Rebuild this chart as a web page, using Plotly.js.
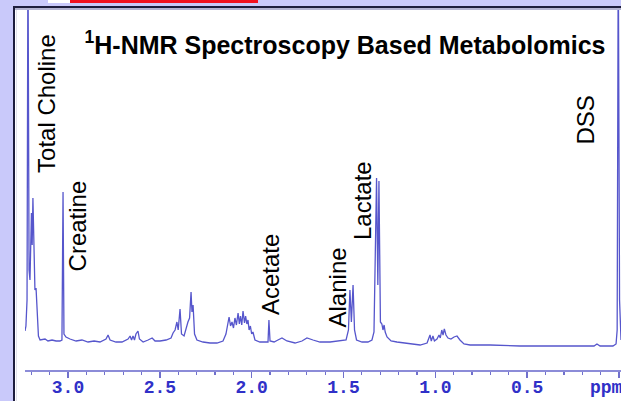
<!DOCTYPE html>
<html>
<head>
<meta charset="utf-8">
<script src="https://cdn.plot.ly/plotly-3.0.1.min.js"></script>
<style>
  html, body { margin: 0; padding: 0; background: #c9c9fa; }
  #chart { width: 621px; height: 401px; }
</style>
</head>
<body>
<div id="chart"></div>
<script>
// ---- Data ----
const spectrumPpm = [
  3.234, 3.229, 3.223, 3.218, 3.212, 3.207, 3.199, 3.195, 3.191, 3.185,
  3.180, 3.174, 3.169, 3.161, 3.152, 3.125, 3.109, 3.087, 3.065, 3.044,
  3.033, 3.027, 3.022, 3.011, 2.989, 2.956, 2.924, 2.891, 2.858, 2.826,
  2.793, 2.782, 2.771, 2.739, 2.706, 2.673, 2.662, 2.654, 2.646, 2.638,
  2.630, 2.619, 2.611, 2.591, 2.564, 2.542, 2.526, 2.499, 2.466, 2.439,
  2.428, 2.417, 2.407, 2.400, 2.390, 2.382, 2.368, 2.358, 2.347, 2.338,
  2.330, 2.325, 2.319, 2.311, 2.298, 2.265, 2.227, 2.189, 2.156, 2.140,
  2.129, 2.123, 2.115, 2.107, 2.099, 2.091, 2.083, 2.074, 2.067, 2.061,
  2.054, 2.047, 2.039, 2.033, 2.026, 2.020, 2.014, 2.007, 2.000, 1.993,
  1.982, 1.955, 1.911, 1.906, 1.900, 1.878, 1.857, 1.835, 1.808, 1.764,
  1.726, 1.699, 1.666, 1.628, 1.573, 1.519, 1.486, 1.473, 1.465, 1.457,
  1.448, 1.440, 1.429, 1.399, 1.367, 1.345, 1.334, 1.320, 1.313, 1.307,
  1.299, 1.291, 1.285, 1.279, 1.273, 1.263, 1.241, 1.209, 1.165, 1.127,
  1.083, 1.045, 1.035, 1.029, 1.022, 1.013, 1.005, 0.991, 0.980, 0.973,
  0.965, 0.958, 0.951, 0.942, 0.931, 0.915, 0.898, 0.882, 0.866, 0.844,
  0.811, 0.702, 0.539, 0.321, 0.136, 0.120, 0.103, 0.033, 0.016, 0.010,
  0.004, -0.003, -0.011
];
const spectrumIntensity = [
  12, 17, 43, 400, 73, 63, 130, 98, 145, 73,
  53, 55, 33, 7, 3, 4, 2, 3, 2, 2,
  3, 151, 9, 6, 4, 2, 3, 1, 2, 1,
  4, 8, 3, 1, 1, 4, 7, 3, 7, 3,
  9, 12, 4, 1, 3, 5, 2, 2, 3, 5,
  10, 13, 21, 13, 34, 9, 7, 15, 21, 25,
  51, 31, 38, 9, 3, 1, 0, 0, 2, 9,
  18, 26, 17, 21, 15, 25, 18, 30, 19, 27,
  18, 32, 20, 27, 19, 23, 13, 17, 9, 11,
  3, 1, 1, 23, 2, 1, 3, 5, 2, 0,
  2, 5, 3, 1, 1, 2, 3, 13, 53, 21,
  58, 13, 3, 1, 1, 3, 11, 165, 58, 162,
  21, 19, 13, 18, 11, 6, 2, 1, 0, -1,
  -2, 0, 6, 8, 2, 7, 2, 4, 8, 5,
  13, 8, 14, 8, 5, 4, 6, 7, 3, -1,
  -2, -2, -3, -3, -3, -1, -3, -3, -1, 13,
  400, 43, 3
];

// Peak labels (name, ppm of label centre, height of label centre)
const labelNames  = ["Total Choline", "Creatine", "Acetate", "Alanine", "Lactate", "DSS"];
const labelPpm    = [3.120, 2.946, 1.900, 1.530, 1.399, 0.185];
const labelHeight = [240, 117.5, 68, 55.5, 142, 222.5];

// Axis ticks
const majorTickVals = [3.0, 2.5, 2.0, 1.5, 1.0, 0.5, 0.0];
const majorTickText = ["3.0", "2.5", "2.0", "1.5", "1.0", "0.5", " "];
const minorTickVals = [3.2, 3.1, 2.9, 2.8, 2.7, 2.6, 2.4, 2.3, 2.2, 2.1, 1.9, 1.8, 1.7, 1.6,
                       1.4, 1.3, 1.2, 1.1, 0.9, 0.8, 0.7, 0.6, 0.4, 0.3, 0.2, 0.1];
const unitLabel = "ppm";
const titleText = "<sup>1</sup>H-NMR Spectroscopy Based Metabolomics";

// ---- Layout helpers (pixel -> paper) ----
const W = 621, H = 401;
const px = x => x / W;
const py = y => 1 - y / H;

const lav = '#c9c9fa';
const border = '#1d1d3d';

const trace = {
  type: 'scatter',
  mode: 'lines',
  x: spectrumPpm,
  y: spectrumIntensity,
  line: { color: '#5656cc', width: 1.3 },
  hoverinfo: 'skip',
  showlegend: false
};

const annotations = labelNames.map((t, i) => ({
  text: t,
  x: labelPpm[i], y: labelHeight[i],
  xref: 'x', yref: 'y',
  xanchor: 'center', yanchor: 'middle',
  textangle: -90,
  showarrow: false,
  font: { family: 'Liberation Sans, Arial, sans-serif', size: 24, color: '#000000' }
}));
annotations.push({
  text: unitLabel,
  x: 0.066, y: py(388),
  xref: 'x', yref: 'paper',
  xanchor: 'center', yanchor: 'middle',
  showarrow: false,
  font: { family: 'Liberation Mono, Courier New, monospace', size: 18, color: '#3030c8', weight: 'bold' }
});

const shapes = [
  // white panel
  { type: 'rect', xref: 'paper', yref: 'paper', x0: px(15), x1: px(621), y0: py(401), y1: py(8),
    fillcolor: '#ffffff', line: { width: 0 }, layer: 'below' },
  // top strips
  { type: 'rect', xref: 'paper', yref: 'paper', x0: px(48), x1: px(70), y0: py(3), y1: py(0),
    fillcolor: '#ffffff', line: { width: 0 }, layer: 'below' },
  { type: 'rect', xref: 'paper', yref: 'paper', x0: px(70), x1: px(258), y0: py(3), y1: py(0),
    fillcolor: '#f2101e', line: { width: 0 }, layer: 'below' },
  // frame
  { type: 'line', xref: 'paper', yref: 'paper', x0: px(13), x1: px(621), y0: py(7), y1: py(7),
    line: { color: border, width: 2 }, layer: 'below' },
  { type: 'line', xref: 'paper', yref: 'paper', x0: px(15), x1: px(621), y0: py(9), y1: py(9),
    line: { color: '#9a9ac2', width: 1.5 }, layer: 'below' },
  { type: 'line', xref: 'paper', yref: 'paper', x0: px(14), x1: px(14), y0: py(6), y1: py(401),
    line: { color: border, width: 2 }, layer: 'below' },
  { type: 'line', xref: 'paper', yref: 'paper', x0: px(16.5), x1: px(16.5), y0: py(10), y1: py(401),
    line: { color: '#e2e2ec', width: 1 }, layer: 'below' }
];

const layout = {
  width: W, height: H,
  margin: { l: 0, r: 0, t: 0, b: 0, pad: 0 },
  paper_bgcolor: lav,
  plot_bgcolor: 'rgba(0,0,0,0)',
  showlegend: false,
  title: {
    text: titleText,
    x: px(345), xref: 'paper', xanchor: 'center',
    y: py(45), yref: 'paper', yanchor: 'middle',
    font: { family: 'Liberation Sans, Arial, sans-serif', size: 25, color: '#000000', weight: 'bold' }
  },
  xaxis: {
    domain: [px(25), 1],
    range: [3.2341, -0.0109],
    anchor: 'free', position: py(370),
    showgrid: false, zeroline: false,
    showline: true, linecolor: '#8c8cd8', linewidth: 1.5,
    tickmode: 'array', tickvals: majorTickVals, ticktext: majorTickText,
    ticks: 'outside', ticklen: 6, tickwidth: 1.5, tickcolor: '#7070cc',
    ticklabelstandoff: -6,
    tickfont: { family: 'Liberation Mono, Courier New, monospace', size: 18, color: '#3030c8', weight: 'bold' },
    minor: { tickmode: 'array', tickvals: minorTickVals, ticks: 'outside', ticklen: 3, tickwidth: 1.2, tickcolor: '#7070cc', showgrid: false },
    fixedrange: true
  },
  yaxis: {
    domain: [0, py(10)],
    range: [-58, 333],
    visible: false,
    showgrid: false, zeroline: false,
    fixedrange: true
  },
  shapes: shapes,
  annotations: annotations
};

Plotly.newPlot('chart', [trace], layout, { displayModeBar: false, staticPlot: true });
</script>
</body>
</html>
